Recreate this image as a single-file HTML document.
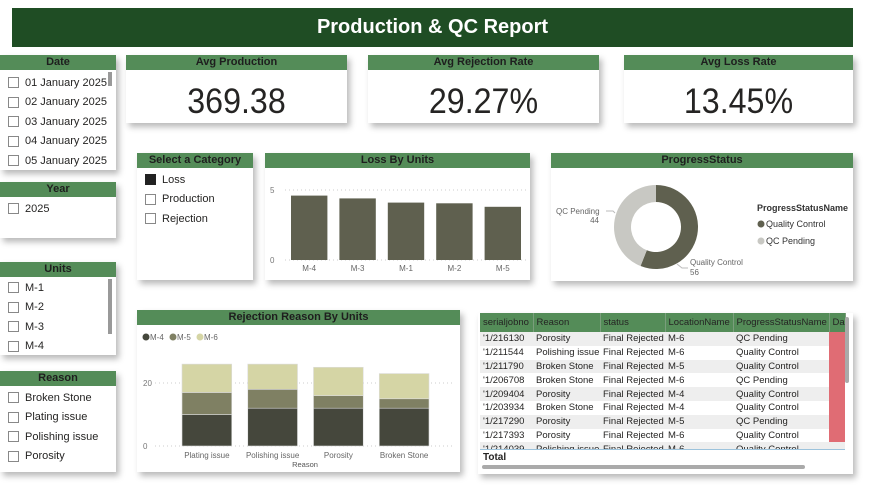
<!DOCTYPE html>
<html><head><meta charset="utf-8"><style>
*{box-sizing:border-box;margin:0;padding:0}
body{width:873px;height:492px;background:#fff;position:relative;overflow:hidden;font-family:"Liberation Sans","DejaVu Sans",sans-serif;color:#252423}
.card{position:absolute;background:#fff;box-shadow:3px 4px 6px rgba(0,0,0,.28)}
.hd{height:15px;background:#548c58;color:#1e1e1e;font-weight:bold;font-size:11px;text-align:center;line-height:15px}
.it{font-size:11px;height:19.5px;display:flex;align-items:center;padding-left:8px}
.cb{width:11px;height:11px;border:1px solid #888;margin-right:6px;flex:none}
.kpi{font-size:35px;text-align:center;margin-top:12px;letter-spacing:0px;transform:scaleX(0.92)}
table{border-collapse:collapse;font-size:9.5px}
td,th{white-space:nowrap;padding:0 3px;height:13.8px;text-align:left;overflow:hidden}
th{background:#548c58;height:19px;font-weight:normal;border-right:1px solid #7a9e7c}
tr:nth-child(even) td{background:#eee}
td.r{background:#e06c74!important;padding:0}
</style></head><body>
<div style="position:absolute;left:12px;top:8px;width:841px;height:39px;background:#1f4d24;color:#fff;font-weight:bold;font-size:20px;text-align:center;line-height:39px">Production &amp; QC Report</div>

<div class="card" style="left:0;top:55px;width:116px;height:115px">
<div class="hd">Date</div>
<div style="padding-top:3px">
<div class="it"><span class="cb"></span>01 January 2025</div><div class="it"><span class="cb"></span>02 January 2025</div><div class="it"><span class="cb"></span>03 January 2025</div><div class="it"><span class="cb"></span>04 January 2025</div><div class="it"><span class="cb"></span>05 January 2025</div></div>
<div style="position:absolute;right:4px;top:17px;width:4px;height:14px;background:#999"></div></div>

<div class="card" style="left:0;top:182px;width:116px;height:56px">
<div class="hd">Year</div><div class="it" style="margin-top:2px"><span class="cb"></span>2025</div></div>

<div class="card" style="left:0;top:262px;width:116px;height:93px;overflow:hidden">
<div class="hd">Units</div>
<div style="padding-top:1px">
<div class="it"><span class="cb"></span>M-1</div><div class="it"><span class="cb"></span>M-2</div><div class="it"><span class="cb"></span>M-3</div><div class="it"><span class="cb"></span>M-4</div></div>
<div style="position:absolute;right:4px;top:17px;width:4px;height:55px;background:#999"></div></div>

<div class="card" style="left:0;top:371px;width:116px;height:101px">
<div class="hd">Reason</div>
<div style="padding-top:2px">
<div class="it"><span class="cb"></span>Broken Stone</div><div class="it"><span class="cb"></span>Plating issue</div><div class="it"><span class="cb"></span>Polishing issue</div><div class="it"><span class="cb"></span>Porosity</div></div></div>

<div class="card" style="left:126px;top:55px;width:221px;height:68px"><div class="hd">Avg Production</div><div class="kpi">369.38</div></div>
<div class="card" style="left:368px;top:55px;width:231px;height:68px"><div class="hd">Avg Rejection Rate</div><div class="kpi">29.27%</div></div>
<div class="card" style="left:624px;top:55px;width:229px;height:68px"><div class="hd">Avg Loss Rate</div><div class="kpi">13.45%</div></div>

<div class="card" style="left:137px;top:153px;width:116px;height:127px">
<div class="hd">Select a Category</div><div style="padding-top:2px">
<div class="it"><span class="cb" style="background:#222;border-color:#222"></span>Loss</div><div class="it"><span class="cb"></span>Production</div><div class="it"><span class="cb"></span>Rejection</div></div></div>

<div class="card" style="left:265px;top:153px;width:265px;height:127px">
<div class="hd">Loss By Units</div>
<svg id="loss" width="265" height="112" style="position:absolute;left:0;top:15px"></svg></div>

<div class="card" style="left:551px;top:153px;width:302px;height:128px">
<div class="hd">ProgressStatus</div>
<svg id="donut" width="302" height="113" style="position:absolute;left:0;top:15px"></svg></div>

<div class="card" style="left:137px;top:310px;width:323px;height:162px">
<div class="hd">Rejection Reason By Units</div>
<svg id="rej" width="323" height="147" style="position:absolute;left:0;top:15px"></svg></div>

<div class="card" style="left:478px;top:313px;width:375px;height:161px;overflow:hidden">
<table style="position:absolute;left:2px;top:0;width:365px;table-layout:fixed">
<colgroup><col style="width:53px"><col style="width:67px"><col style="width:65px"><col style="width:68px"><col style="width:96px"><col style="width:16px"></colgroup>
<tr><th>serialjobno</th><th>Reason</th><th>status</th><th>LocationName</th><th>ProgressStatusName</th><th>Da</th></tr>
<tr><td>'1/216130</td><td>Porosity</td><td>Final Rejected</td><td>M-6</td><td>QC Pending</td><td class="r"></td></tr>
<tr><td>'1/211544</td><td>Polishing issue</td><td>Final Rejected</td><td>M-6</td><td>Quality Control</td><td class="r"></td></tr>
<tr><td>'1/211790</td><td>Broken Stone</td><td>Final Rejected</td><td>M-5</td><td>Quality Control</td><td class="r"></td></tr>
<tr><td>'1/206708</td><td>Broken Stone</td><td>Final Rejected</td><td>M-6</td><td>QC Pending</td><td class="r"></td></tr>
<tr><td>'1/209404</td><td>Porosity</td><td>Final Rejected</td><td>M-4</td><td>Quality Control</td><td class="r"></td></tr>
<tr><td>'1/203934</td><td>Broken Stone</td><td>Final Rejected</td><td>M-4</td><td>Quality Control</td><td class="r"></td></tr>
<tr><td>'1/217290</td><td>Porosity</td><td>Final Rejected</td><td>M-5</td><td>QC Pending</td><td class="r"></td></tr>
<tr><td>'1/217393</td><td>Porosity</td><td>Final Rejected</td><td>M-6</td><td>Quality Control</td><td class="r"></td></tr>
<tr><td>'1/214039</td><td>Polishing issue</td><td>Final Rejected</td><td>M-6</td><td>Quality Control</td><td></td></tr>
</table>
<div style="position:absolute;left:2px;top:136px;width:365px;height:25px;background:#fff;border-top:1px solid #9cc3dc;font-size:10px;font-weight:bold;padding:2px 3px">Total</div>
<div style="position:absolute;left:4px;top:152px;width:323px;height:4px;border-radius:2px;background:#aaa"></div>
<div style="position:absolute;left:367px;top:4px;width:4px;height:66px;border-radius:2px;background:#aaa"></div>
</div>

<script>
const NS="http://www.w3.org/2000/svg";
function mk(p,t,a,txt){const e=document.createElementNS(NS,t);for(const k in a)e.setAttribute(k,a[k]);if(txt!==undefined)e.textContent=txt;p.appendChild(e);return e;}

// Loss by units
const lossUnits=["M-4","M-3","M-1","M-2","M-5"];
const lossValues=[4.6,4.4,4.1,4.05,3.8];
const lossTicks=[0,5];
(function(){
 const s=document.getElementById("loss");
 const x0=20,x1=262,yb=92,yt=22,max=5;
 const y=v=>yb-(v/max)*(yb-yt);
 const bw=(x1-x0)/lossUnits.length;
 lossTicks.forEach(t=>{
  const l=mk(s,"line",{x1:x0,x2:x1,y1:y(t),y2:y(t),stroke:"#ccc","stroke-dasharray":"1,3"});
  
  const tx=mk(s,"text",{x:5,y:y(t)+3,"font-size":8,fill:"#777"},t);
  
 });
 lossUnits.forEach((u,i)=>{
  const r=mk(s,"rect",{x:x0+i*bw+6,y:y(lossValues[i]),width:bw-12,height:yb-y(lossValues[i]),fill:"#5f604f"});
  
  const t=mk(s,"text",{x:x0+i*bw+bw/2,y:yb+11,"font-size":8,fill:"#666","text-anchor":"middle"},u);
  
 });
})();

// Donut
const statusNames=["Quality Control","QC Pending"];
const statusValues=[56,44];
const statusColors=["#5f604f","#c8c8c3"];
(function(){
 const s=document.getElementById("donut");
 const cx=105,cy=59,ro=42,ri=25;
 const tot=statusValues.reduce((a,b)=>a+b,0);
 let a0=0;
 statusValues.forEach((v,i)=>{
  const a1=a0+v/tot*2*Math.PI;
  const p=(a,r)=>[cx+r*Math.sin(a),cy-r*Math.cos(a)];
  const [x1,y1]=p(a0,ro),[x2,y2]=p(a1,ro),[x3,y3]=p(a1,ri),[x4,y4]=p(a0,ri);
  const lg=(a1-a0)>Math.PI?1:0;
  const path=mk(s,"path",{d:`M${x1} ${y1}A${ro} ${ro} 0 ${lg} 1 ${x2} ${y2}L${x3} ${y3}A${ri} ${ri} 0 ${lg} 0 ${x4} ${y4}Z`,fill:statusColors[i]});
  
  a0=a1;
 });
 const l1=mk(s,"text",{x:5,y:46,"font-size":8,fill:"#666"},statusNames[1]);
 
 mk(s,"text",{x:48,y:55,"font-size":8,fill:"#666","text-anchor":"end"},statusValues[1]);
 mk(s,"polyline",{points:"55,43 62,43 64,45",fill:"none",stroke:"#bbb"});
 const l2=mk(s,"text",{x:139,y:97,"font-size":8,fill:"#666"},statusNames[0]);
 
 mk(s,"text",{x:139,y:107,"font-size":8,fill:"#666"},statusValues[0]);
 mk(s,"polyline",{points:"126,96 131,100 137,100",fill:"none",stroke:"#bbb"});
 const lt=mk(s,"text",{x:206,y:43,"font-size":9,"font-weight":"bold",fill:"#333"},"ProgressStatusName");
 
 statusNames.forEach((n,i)=>{
  const g=mk(s,"g",{});
  
  mk(g,"circle",{cx:210,cy:56+i*17,r:3.5,fill:statusColors[i]});
  mk(g,"text",{x:215,y:59+i*17,"font-size":9,fill:"#333"},n);
 });
})();

// Rejection stacked
const reasons=["Plating issue","Polishing issue","Porosity","Broken Stone"];
const seriesNames=["M-4","M-5","M-6"];
const m4=[10,12,12,12];
const m5=[7,6,4,3];
const m6=[9,8,9,8];
const rejTicks=[0,20];
const rejColors=["#45473c","#7f8063","#d5d5a5"];
(function(){
 const s=document.getElementById("rej");
 const series=[m4,m5,m6];
 const x0=37,x1=300,yb=121,per=3.15;
 const y=v=>yb-v*per;
 const bw=(x1-x0)/reasons.length;
 rejTicks.forEach(t=>{
  const l=mk(s,"line",{x1:18,x2:318,y1:y(t),y2:y(t),stroke:"#ccc","stroke-dasharray":"1,3"});
  
  const tx=mk(s,"text",{x:6,y:y(t)+3,"font-size":8,fill:"#777"},t);
  
 });
 seriesNames.forEach((n,i)=>{
  const g=mk(s,"g",{});
  
  mk(g,"circle",{cx:9+i*27,cy:12,r:3.5,fill:rejColors[i]});
  mk(g,"text",{x:13+i*27,y:15,"font-size":8,fill:"#666"},n);
 });
 reasons.forEach((r,j)=>{
  let acc=0;
  series.forEach((sv,i)=>{
   const rc=mk(s,"rect",{x:x0+j*bw+8,y:y(acc+sv[j]),width:bw-16,height:sv[j]*per,fill:rejColors[i],stroke:"#ddd","stroke-width":0.6});
   
   acc+=sv[j];
  });
  const t=mk(s,"text",{x:x0+j*bw+bw/2,y:yb+12,"font-size":8,fill:"#666","text-anchor":"middle"},r);
  
 });
 const at=mk(s,"text",{x:168,y:142,"font-size":7.5,fill:"#555","text-anchor":"middle"},"Reason");
 
})();
</script>
</body></html>
